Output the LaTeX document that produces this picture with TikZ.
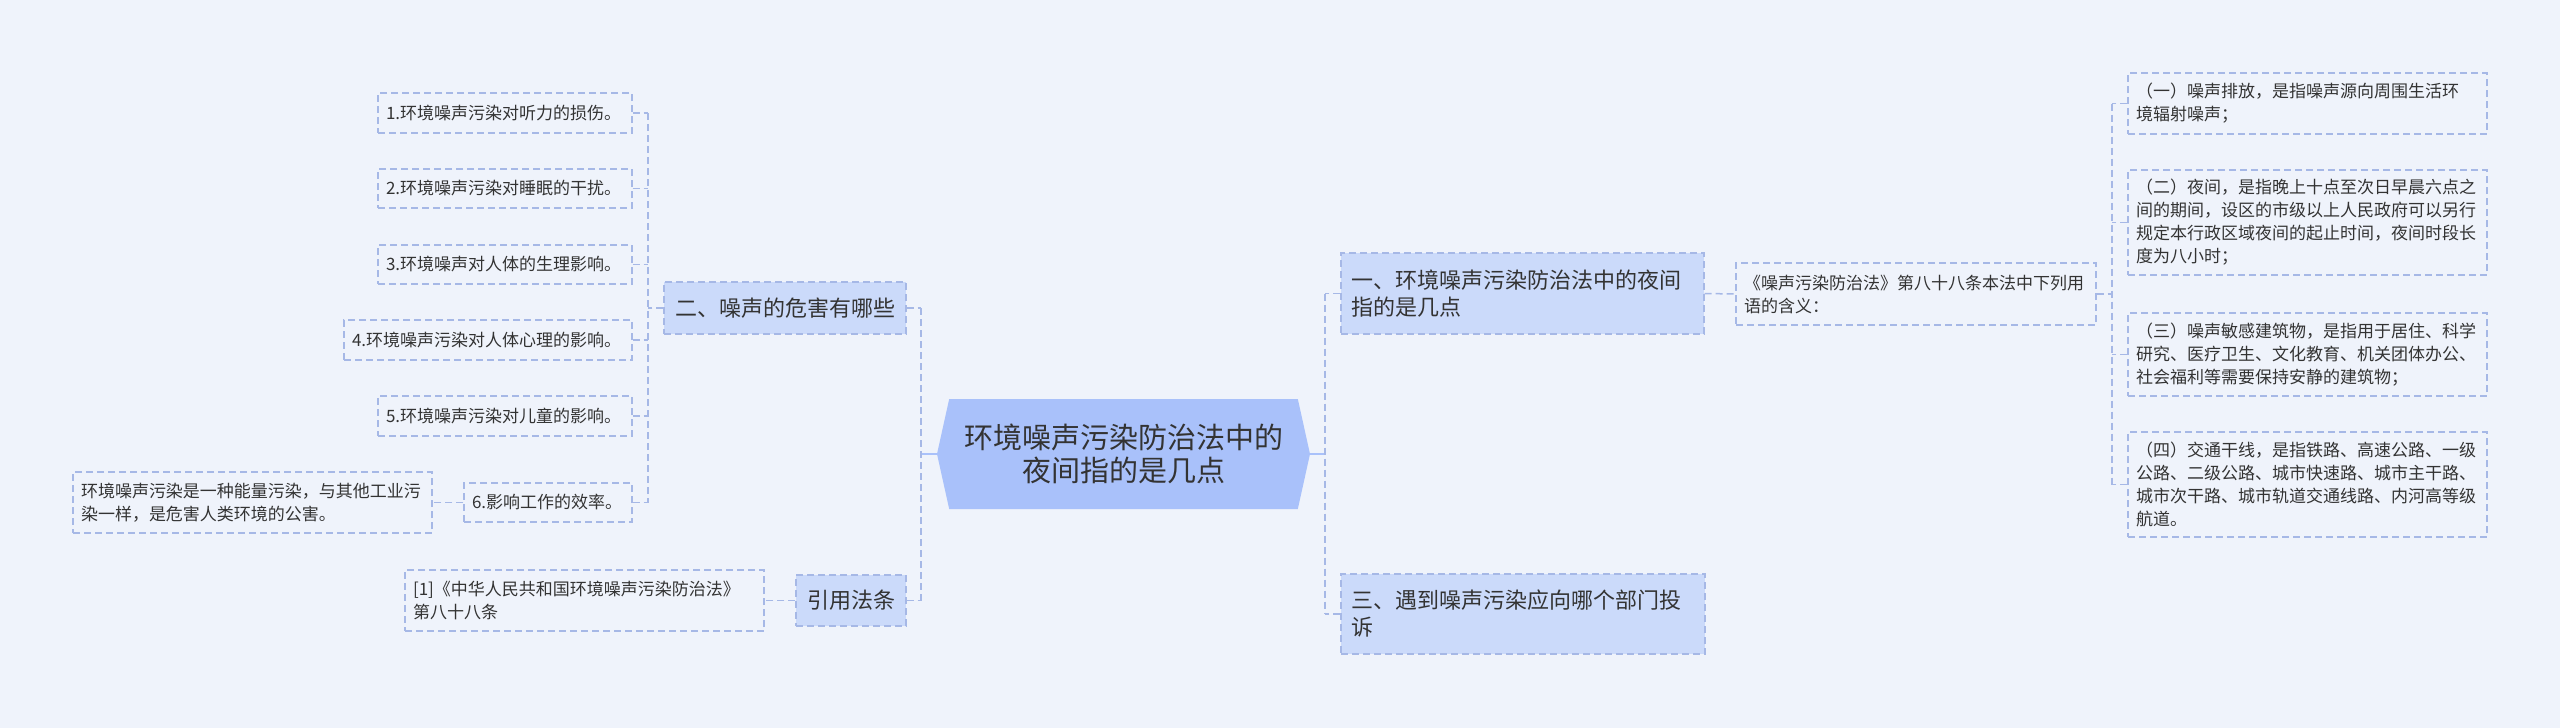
\documentclass[tikz,border=0pt]{standalone}
\usepackage{fontspec}
\setmainfont{Noto Sans CJK SC}
\usetikzlibrary{shapes.symbols}

\definecolor{bgcol}{RGB}{239,243,251}
\definecolor{rootfill}{RGB}{169,193,250}
\definecolor{topfill}{RGB}{203,218,250}
\definecolor{edgecol}{RGB}{166,184,230}
\definecolor{inkcol}{RGB}{51,51,51}

\begin{document}
\begin{tikzpicture}[
    x=0.5pt, y=-0.5pt,
    every node/.style={text=inkcol, inner ysep=0pt},
    rootbox/.style={signal, signal to=west and east, signal pointer angle=155,
        fill=rootfill, minimum width=186.5pt, minimum height=55pt, align=center,
        font=\fontsize{14.5}{16.5}\selectfont},
    topbox/.style={draw=edgecol, fill=topfill, line width=0.6pt,
        dash pattern=on 3.5pt off 2pt, inner xsep=5pt,
        font=\fontsize{11}{13.5}\selectfont},
    leafbox/.style={draw=edgecol, line width=0.6pt, dash pattern=on 3.5pt off 2pt,
        inner xsep=4pt, align=left, text width=#1,
        font=\fontsize{8.5}{11.5}\selectfont},
    link/.style={draw=edgecol, line width=0.75pt, dash pattern=on 3.5pt off 2pt},
    stem/.style={draw=rootfill, line width=1.2pt}
]

\fill[bgcol] (0,0) rectangle (2560,728);
\useasboundingbox (0,0) rectangle (2560,728);

% ================= root =================

\node[rootbox] (root) at (1123.5,454) {环境噪声污染防治法中的\\夜间指的是几点};

\coordinate (lbus) at (921,454);
\coordinate (rbus) at (1325,454);

% ================= left side =================

\node[topbox, minimum width=121pt, minimum height=26pt] (harm) at (785,308) {二、噪声的危害有哪些};
\node[topbox, minimum width=55pt, minimum height=25.5pt] (cite) at (851,600.5) {引用法条};

\node[leafbox=119pt, minimum height=20pt] (h1) at (505,113) {1.环境噪声污染对听力的损伤。};
\node[leafbox=119pt, minimum height=19.5pt] (h2) at (505,188.5) {2.环境噪声污染对睡眠的干扰。};
\node[leafbox=119pt, minimum height=19.5pt] (h3) at (505,264.5) {3.环境噪声对人体的生理影响。};
\node[leafbox=136pt, minimum height=20pt] (h4) at (488,340) {4.环境噪声污染对人体心理的影响。};
\node[leafbox=119pt, minimum height=20pt] (h5) at (505,416) {5.环境噪声污染对儿童的影响。};
\node[leafbox=76pt, minimum height=19.5pt] (h6) at (548,502.5) {6.影响工作的效率。};

\node[leafbox=171.5pt, minimum height=30.5pt] (h6note) at (252.5,502.5)
    {环境噪声污染是一种能量污染，与其他工业污\\染一样，是危害人类环境的公害。};
\node[leafbox=171.5pt, minimum height=30.5pt] (citenote) at (584.5,600.5)
    {[1]《中华人民共和国环境噪声污染防治法》\\第八十八条};

\coordinate (hbus) at (648,308);

% ================= right side =================

\node[topbox, text width=171.5pt, align=left, minimum height=40.5pt] (night) at (1522.5,293.5)
    {一、环境噪声污染防治法中的夜间\\指的是几点};
\node[topbox, text width=172pt, align=left, minimum height=40pt] (report) at (1523,614)
    {三、遇到噪声污染应向哪个部门投\\诉};

\node[leafbox=172pt, minimum height=31pt] (law) at (1916,294)
    {《噪声污染防治法》第八十八条本法中下列用\\语的含义：};

\node[leafbox=171.5pt, minimum height=30.5pt] (d1) at (2307.5,103.5)
    {（一）噪声排放，是指噪声源向周围生活环\\境辐射噪声；};
\node[leafbox=171.5pt, minimum height=52.5pt] (d2) at (2307.5,222.5)
    {（二）夜间，是指晚上十点至次日早晨六点之\\间的期间，设区的市级以上人民政府可以另行\\规定本行政区域夜间的起止时间，夜间时段长\\度为八小时；};
\node[leafbox=171.5pt, minimum height=41.5pt] (d3) at (2307.5,354.5)
    {（三）噪声敏感建筑物，是指用于居住、科学\\研究、医疗卫生、文化教育、机关团体办公、\\社会福利等需要保持安静的建筑物；};
\node[leafbox=171.5pt, minimum height=52.5pt] (d4) at (2307.5,484.5)
    {（四）交通干线，是指铁路、高速公路、一级\\公路、二级公路、城市快速路、城市主干路、\\城市次干路、城市轨道交通线路、内河高等级\\航道。};

\coordinate (dbus) at (2112,294);

% ================= connectors =================

\draw[stem] (root.west) -- (lbus);
\draw[stem] (root.east) -- (rbus);

\draw[link] (harm.east -| lbus) -- (cite.east -| lbus);
\draw[link] (harm.east) -- (harm.east -| lbus);
\draw[link] (cite.east) -- (cite.east -| lbus);

\draw[link] (night.west -| rbus) -- (report.west -| rbus);
\draw[link] (night.west) -- (night.west -| rbus);
\draw[link] (report.west) -- (report.west -| rbus);

\draw[link] (h1.east -| hbus) -- (h6.east -| hbus);
\draw[link] (harm.west) -- (hbus);
\foreach \n in {h1,h2,h3,h4,h5,h6}
    \draw[link] (\n.east) -- (\n.east -| hbus);
\draw[link] (h6.west) -- (h6note.east);
\draw[link] (cite.west) -- (citenote.east);

\draw[link] (night.east) -- (law.west);
\draw[link] (law.east) -- (dbus);
\draw[link] (d1.west -| dbus) -- (d4.west -| dbus);
\foreach \n in {d1,d2,d3,d4}
    \draw[link] (\n.west) -- (\n.west -| dbus);

\end{tikzpicture}
\end{document}
